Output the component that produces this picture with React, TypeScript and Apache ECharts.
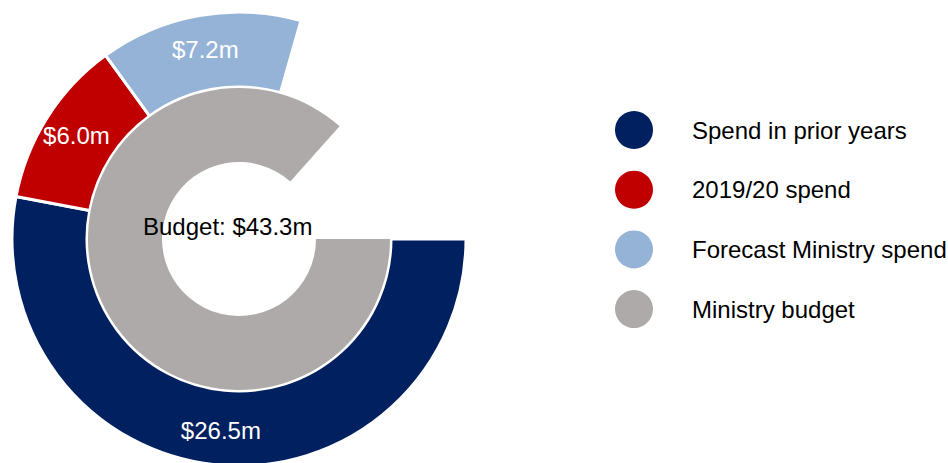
import React, { useEffect, useRef } from "react";
import * as echarts from "echarts";

const scaleMax = 50;
const spendNames = ["Spend in prior years", "2019/20 spend", "Forecast Ministry spend"];
const spendValues = [26.5, 6.0, 7.2];
const spendColors = ["#002060", "#C00000", "#95B3D7"];
const budgetName = "Ministry budget";
const budgetValue = 43.3;
const budgetColor = "#AEAAAA";

export default function App() {
  const ref = useRef<HTMLDivElement>(null);
  useEffect(() => {
    if (!ref.current) return;
    const chart = echarts.init(ref.current, null, { renderer: "svg" });
    const spendTotal = spendValues.reduce((a, b) => a + b, 0);
    const font = "'Liberation Sans', Arial, sans-serif";
    const outerData: any[] = spendNames.map((n, i) => ({
      name: n,
      value: spendValues[i],
      itemStyle: { color: spendColors[i] },
    }));
    outerData.push({
      name: "__rest_outer",
      value: +(scaleMax - spendTotal).toFixed(2),
      itemStyle: { color: "rgba(0,0,0,0)", borderWidth: 0 },
      label: { show: false },
    });
    const innerData: any[] = [
      { name: budgetName, value: budgetValue, itemStyle: { color: budgetColor } },
      {
        name: "__rest_inner",
        value: +(scaleMax - budgetValue).toFixed(2),
        itemStyle: { color: "rgba(0,0,0,0)", borderWidth: 0 },
        label: { show: false },
      },
    ];
    chart.setOption({
      animation: false,
      color: [...spendColors, budgetColor],
      textStyle: { fontFamily: font },
      title: {
        text: "Budget: $" + budgetValue.toFixed(1) + "m",
        left: 143,
        top: 214,
        padding: 0,
        textStyle: { color: "#000", fontSize: 24, fontWeight: "normal", fontFamily: font },
      },
      legend: {
        orient: "vertical",
        left: 615,
        top: 111,
        padding: 0,
        icon: "circle",
        itemWidth: 38,
        itemHeight: 38,
        itemGap: 21.7,
        data: [...spendNames, budgetName],
        itemStyle: { borderWidth: 0 },
        textStyle: { color: "#000", fontSize: 24, fontFamily: font, padding: [0, 0, 0, 34] },
        selectedMode: false,
      },
      series: [
        {
          type: "pie",
          center: [239, 239],
          radius: [152, 227],
          startAngle: 0,
          clockwise: true,
          silent: true,
          itemStyle: { borderColor: "#fff", borderWidth: 3 },
          label: {
            show: true,
            position: "inside",
            color: "#fff",
            fontSize: 24,
            fontFamily: font,
            formatter: (p: any) => "$" + Number(p.value).toFixed(1) + "m",
          },
          labelLine: { show: false },
          emphasis: { disabled: true },
          data: outerData,
        },
        {
          type: "pie",
          center: [239, 239],
          radius: [77, 151],
          startAngle: 0,
          clockwise: true,
          silent: true,
          itemStyle: { borderWidth: 0 },
          label: { show: false },
          labelLine: { show: false },
          emphasis: { disabled: true },
          data: innerData,
        },
      ],
    });
    return () => chart.dispose();
  }, []);
  return (
    <div
      ref={ref}
      style={{ position: "fixed", left: 0, top: 0, width: 948, height: 463, background: "#fff" }}
    />
  );
}
